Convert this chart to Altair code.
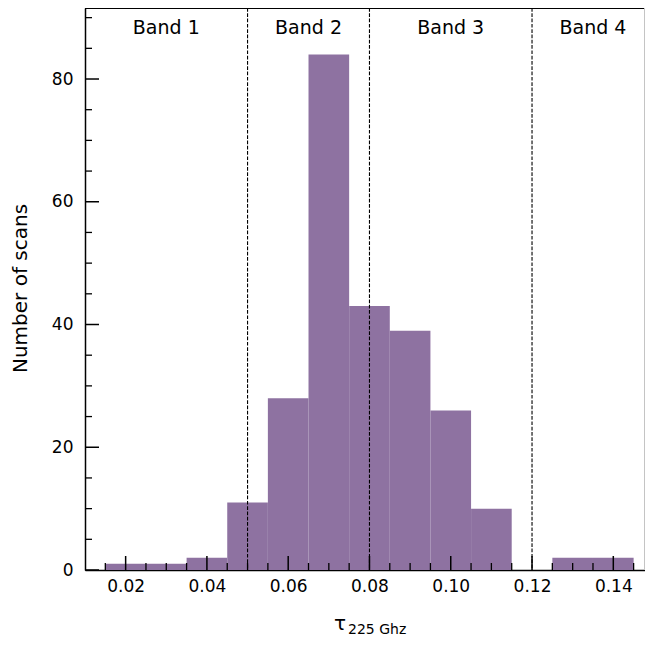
import altair as alt
import pandas as pd

# Histogram data (bin edges of width 0.01)
bin_starts = [0.015, 0.025, 0.035, 0.045, 0.055, 0.065, 0.075, 0.085, 0.095, 0.105, 0.115, 0.125, 0.135]
bin_ends = [0.025, 0.035, 0.045, 0.055, 0.065, 0.075, 0.085, 0.095, 0.105, 0.115, 0.125, 0.135, 0.145]
counts = [1, 1, 2, 11, 28, 84, 43, 39, 26, 10, 0, 2, 2]

band_edges = [0.05, 0.08, 0.12]
band_names = ["Band 1", "Band 2", "Band 3", "Band 4"]
band_centers = [0.03, 0.065, 0.10, 0.135]

x_major = [0.02, 0.04, 0.06, 0.08, 0.10, 0.12, 0.14]
x_minor = [0.015, 0.025, 0.03, 0.035, 0.045, 0.05, 0.055, 0.065, 0.07, 0.075,
           0.085, 0.09, 0.095, 0.105, 0.11, 0.115, 0.125, 0.13, 0.135, 0.145]
y_major = [0, 20, 40, 60, 80]
y_minor = [5, 10, 15, 25, 30, 35, 45, 50, 55, 65, 70, 75, 85, 90]

W, H = 560, 562
FONT = "DejaVu Sans"
BAR = "#8E72A1"

xs = alt.Scale(domain=[0.01, 0.1478], nice=False, zero=False)
ys = alt.Scale(domain=[0, 91.57], nice=False)

hist = pd.DataFrame({"x": bin_starts, "x_end": bin_ends, "y": counts, "y0": [0] * len(counts)})
bands = pd.DataFrame({"name": band_names, "x": band_centers})
edges = pd.DataFrame({"x": band_edges})
xmaj = pd.DataFrame({"x": x_major})
xmin = pd.DataFrame({"x": x_minor})
ymaj = pd.DataFrame({"y": y_major})
ymin = pd.DataFrame({"y": y_minor})
one = pd.DataFrame({"k": [0]})

bars = alt.Chart(hist).mark_bar(color=BAR, strokeWidth=0).encode(
    x=alt.X("x:Q", scale=xs,
            axis=alt.Axis(values=x_major, format=".2f", title=None, grid=False,
                          ticks=False, tickSize=0, labelPadding=8, labelFontSize=17,
                          labelFont=FONT, labelColor="black", domainColor="black",
                          domainWidth=1.5)),
    x2="x_end:Q",
    y=alt.Y("y:Q", scale=ys,
            axis=alt.Axis(values=y_major, format="d", title="Number of scans", grid=False,
                          ticks=False, tickSize=0, labelPadding=12, labelFontSize=17,
                          labelFont=FONT, labelColor="black", domainColor="black",
                          domainWidth=1.5, titleFont=FONT, titleFontSize=20,
                          titleFontWeight="normal", titleColor="black",
                          titleX=-65, titleY=280, titleAngle=270,
                          titleAlign="center", titleBaseline="middle")),
    y2="y0:Q",
)

dashed = alt.Chart(edges).mark_rule(color="black", strokeWidth=1.1, strokeDash=[3.7, 1.6]).encode(
    x=alt.X("x:Q", scale=xs)
)

labels = alt.Chart(bands).mark_text(font=FONT, fontSize=19, color="black",
                                    baseline="middle", align="center").encode(
    x=alt.X("x:Q", scale=xs),
    y=alt.value(20),
    text="name:N",
)

xmaj_t = alt.Chart(xmaj).mark_rule(color="black", strokeWidth=1.5).encode(
    x=alt.X("x:Q", scale=xs), y=alt.value(H), y2=alt.value(H - 14))
xmin_t = alt.Chart(xmin).mark_rule(color="black", strokeWidth=1.3).encode(
    x=alt.X("x:Q", scale=xs), y=alt.value(H), y2=alt.value(H - 7))
ymaj_t = alt.Chart(ymaj).mark_rule(color="black", strokeWidth=1.5).encode(
    y=alt.Y("y:Q", scale=ys), x=alt.value(0), x2=alt.value(14))
ymin_t = alt.Chart(ymin).mark_rule(color="black", strokeWidth=1.3).encode(
    y=alt.Y("y:Q", scale=ys), x=alt.value(0), x2=alt.value(7))

top_spine = alt.Chart(one).mark_rule(color="black", strokeWidth=2).encode(
    x=alt.value(0), x2=alt.value(W), y=alt.value(0))
right_spine = alt.Chart(one).mark_rule(color="#c4c4c4", strokeWidth=1).encode(
    x=alt.value(W - 0.5), y=alt.value(0), y2=alt.value(H))

tau = alt.Chart(one).mark_text(text="τ", font=FONT, fontSize=20, color="black",
                               align="left", baseline="alphabetic").encode(
    x=alt.value(249), y=alt.value(622))
sub = alt.Chart(one).mark_text(text="225 Ghz", font=FONT, fontSize=14, color="black",
                               align="left", baseline="alphabetic").encode(
    x=alt.value(263), y=alt.value(626))

chart = alt.layer(
    bars, dashed, labels, xmaj_t, xmin_t, ymaj_t, ymin_t, top_spine, right_spine, tau, sub
).properties(
    width=W, height=H,
    autosize=alt.AutoSizeParams(type="none"),
    padding={"left": 77, "top": 0, "right": 0, "bottom": 68},
).configure_view(stroke=None).configure(background="white")

chart.save("out.html", embed_options={"renderer": "svg", "actions": False})
